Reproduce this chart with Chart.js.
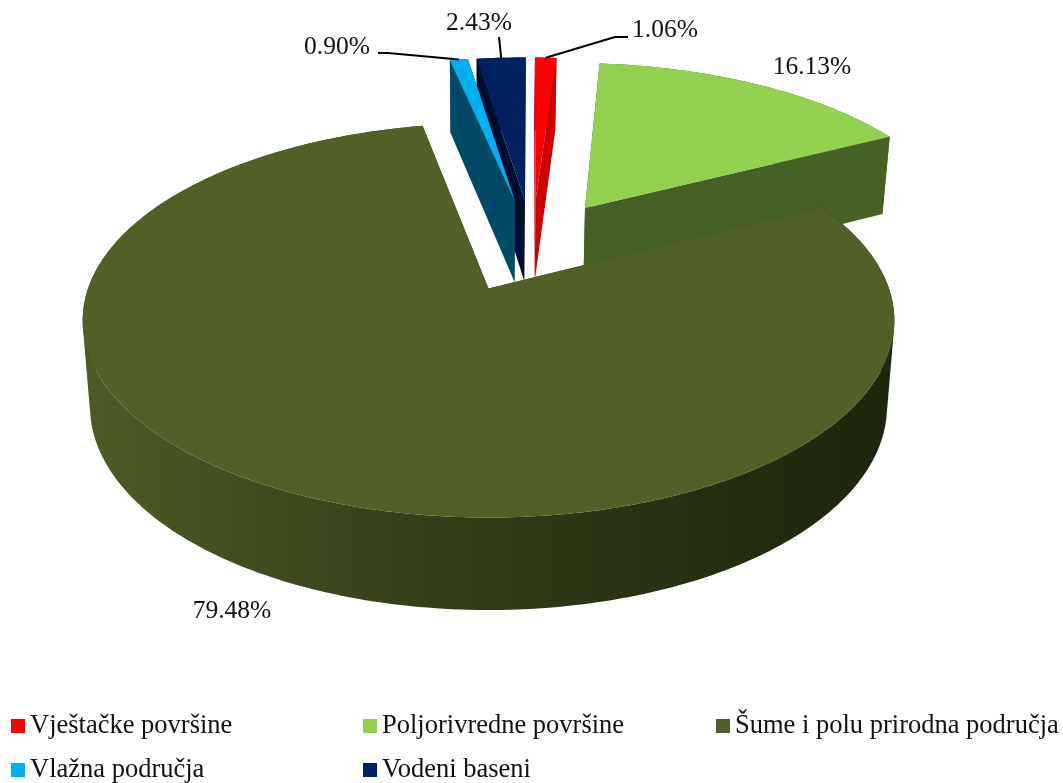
<!DOCTYPE html>
<html>
<head>
<meta charset="utf-8">
<title>Pokrivenost zemljišta</title>
<script src="https://cdn.jsdelivr.net/npm/chart.js@4"></script>
<style>
  html, body { margin: 0; padding: 0; background: #fff; }
  canvas { display: block; }
</style>
</head>
<body>
<canvas id="pieChart" width="1063" height="783"></canvas>
<script>
// Podaci
const categories = ['Vještačke površine', 'Poljorivredne površine', 'Šume i polu prirodna područja', 'Vlažna područja', 'Vodeni baseni'];
const shares = [1.06, 16.13, 79.48, 0.90, 2.43];
const topColors = ['#ff0000', '#92d050', '#506026', '#00b0f0', '#002060'];
const wallColors = ['#cc0000', '#466125', '#3a451b', '#004a66', '#000c2e'];

const FONT = '"Liberation Serif", "Times New Roman", serif';
const TEXT = '#111111';

// Kamera: pie je ravan disk, pa ga projektujemo u perspektivu
const view = { ox: 488, oy: 290, rx: 401, ry: 192.5, persp: 0.162, cx: 0.115, cy: 0.2416 };

// Natpisi: centar teksta, pa lomna tačka linije (ako postoji)
const valueLabels = [
  { x: 665, y: 30, from: [[628, 37], [615, 37]] },
  { x: 812, y: 67 },
  { x: 232, y: 611 },
  { x: 337, y: 47, from: [[378, 53], [388, 53]] },
  { x: 479, y: 23, from: [[499, 37]] }
];
const legendSlots = [[11, 719], [363, 719], [716, 719], [11, 763], [363, 763]];

function project(arc, px, py, z) {
  const u = (px - arc.x) / arc.outerRadius + view.cx;
  const v = (arc.y - py) / arc.outerRadius + view.cy;
  const s = 1 / (1 + view.persp * v);
  const sx = view.rx * u * s;
  const sy = -view.ry * v * s;
  return [view.ox + sx * (1 - 0.018 * z), view.oy + sy + z * (84.5 - 8 * v)];
}

function arcGeometry(el, offset) {
  const arc = el.getProps(['x', 'y', 'startAngle', 'endAngle', 'outerRadius'], true);
  const mid = (arc.startAngle + arc.endAngle) / 2;
  arc.mid = mid;
  arc.apexX = arc.x + Math.cos(mid) * offset;
  arc.apexY = arc.y + Math.sin(mid) * offset;
  return arc;
}

function rimPoint(arc, a, z) {
  return project(arc, arc.apexX + Math.cos(a) * arc.outerRadius, arc.apexY + Math.sin(a) * arc.outerRadius, z);
}

function tracePoly(ctx, pts) {
  pts.forEach((p, i) => i ? ctx.lineTo(p[0], p[1]) : ctx.moveTo(p[0], p[1]));
  ctx.closePath();
}

function fillPoly(ctx, pts, color) {
  ctx.beginPath();
  tracePoly(ctx, pts);
  ctx.fillStyle = color;
  ctx.fill();
}

function signedArea(pts) {
  return pts.reduce((s, p, i) => {
    const q = pts[(i + 1) % pts.length];
    return s + p[0] * q[1] - q[0] * p[1];
  }, 0);
}

function drawSlice(ctx, arc, topColor, wallColor, rimColor) {
  const n = Math.max(2, Math.ceil((arc.endAngle - arc.startAngle) / (Math.PI / 180)));
  const top = [], bottom = [];
  for (let i = 0; i <= n; i++) {
    const a = arc.startAngle + (arc.endAngle - arc.startAngle) * i / n;
    top.push(rimPoint(arc, a, 0));
    bottom.push(rimPoint(arc, a, 1));
  }
  const apexTop = project(arc, arc.apexX, arc.apexY, 0);
  const apexBottom = project(arc, arc.apexX, arc.apexY, 1);

  fillPoly(ctx, [apexTop, top[0], bottom[0], apexBottom], wallColor);
  fillPoly(ctx, [apexTop, top[n], bottom[n], apexBottom], wallColor);

  // omotač: sve trake u jednoj putanji, isti smjer, da nema šavova
  ctx.beginPath();
  for (let i = 0; i < n; i++) {
    const quad = [top[i], top[i + 1], bottom[i + 1], bottom[i]];
    tracePoly(ctx, signedArea(quad) < 0 ? quad.reverse() : quad);
  }
  ctx.fillStyle = rimColor;
  ctx.fill();

  fillPoly(ctx, [apexTop].concat(top), topColor);
}

const pie3d = {
  id: 'pie3d',
  beforeDatasetDraw(chart, args) {
    const ctx = chart.ctx;
    const meta = args.meta;
    const offset = chart.data.datasets[0].offset;
    const arcs = meta.data.map((el, i) => ({ i, arc: arcGeometry(el, offset) }));

    // zadnji komadi prvi
    arcs.slice().sort((a, b) => Math.sin(a.arc.mid) - Math.sin(b.arc.mid)).forEach(({ i, arc }) => {
      let rim = wallColors[i];
      if (shares[i] > 50) {
        rim = ctx.createLinearGradient(85, 0, 895, 0);
        rim.addColorStop(0, '#4c5b26');
        rim.addColorStop(0.34, '#39441b');
        rim.addColorStop(0.55, '#2e3917');
        rim.addColorStop(0.8, '#232d11');
        rim.addColorStop(1, '#1d260e');
      }
      drawSlice(ctx, arc, topColors[i], wallColors[i], rim);
    });

    // linije do natpisa
    ctx.strokeStyle = '#000';
    ctx.lineWidth = 2;
    ctx.lineJoin = 'round';
    arcs.forEach(({ i, arc }) => {
      const from = valueLabels[i].from;
      if (!from) return;
      const end = rimPoint(arc, arc.mid, 0);
      ctx.beginPath();
      from.forEach((p, k) => k ? ctx.lineTo(p[0], p[1]) : ctx.moveTo(p[0], p[1]));
      ctx.lineTo(end[0], end[1]);
      ctx.stroke();
    });

    // procenti
    ctx.fillStyle = TEXT;
    ctx.font = '25.5px ' + FONT;
    ctx.textAlign = 'center';
    ctx.textBaseline = 'middle';
    shares.forEach((v, i) => ctx.fillText(v.toFixed(2) + '%', valueLabels[i].x, valueLabels[i].y));
    return false;
  },
  afterDraw(chart) {
    const ctx = chart.ctx;
    ctx.save();
    ctx.font = '26.5px ' + FONT;
    ctx.textAlign = 'left';
    ctx.textBaseline = 'alphabetic';
    categories.forEach((name, i) => {
      const [x, y] = legendSlots[i];
      ctx.fillStyle = topColors[i];
      ctx.fillRect(x, y, 14, 14);
      ctx.fillStyle = TEXT;
      ctx.fillText(name, x + 19, y + 14);
    });
    ctx.restore();
  }
};

new Chart(document.getElementById('pieChart'), {
  type: 'pie',
  data: {
    labels: categories,
    datasets: [{
      data: shares,
      backgroundColor: topColors,
      borderWidth: 0,
      offset: 104
    }]
  },
  options: {
    responsive: false,
    animation: false,
    rotation: 1,
    radius: 400,
    plugins: {
      legend: { display: false },
      tooltip: { enabled: false }
    }
  },
  plugins: [pie3d]
});
</script>
</body>
</html>
